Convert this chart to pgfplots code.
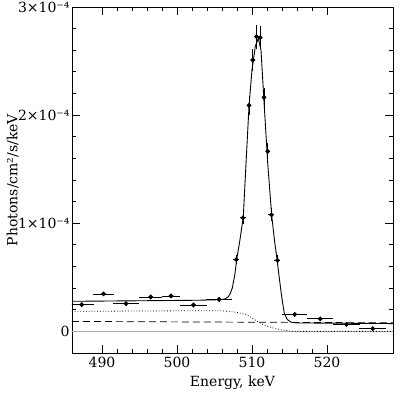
\documentclass[border=0pt]{standalone}
\usepackage{fontspec}
\setmainfont{DejaVu Serif}
\usepackage{pgfplots}
\pgfplotsset{compat=1.18}
\usepackage{pgfplotstable}

\pgfplotstableread{
x y ex ey
487.3 0.247 1.7 0.02
490.2 0.346 1.35 0.02
493.2 0.256 1.75 0.02
496.5 0.318 1.5 0.02
499.2 0.327 1.2 0.02
502.2 0.244 1.8 0.02
505.6 0.296 1.7 0.02
507.9 0.664 0.4 0.045
508.8 1.05 0.4 0.06
509.6 2.09 0.25 0.09
510.1 2.51 0.25 0.10
510.6 2.726 0.25 0.11
511.1 2.717 0.25 0.11
511.6 2.164 0.25 0.085
512.1 1.664 0.25 0.08
512.6 1.078 0.4 0.06
513.4 0.657 0.4 0.045
515.7 0.157 1.7 0.02
519.1 0.115 1.7 0.02
522.6 0.065 1.8 0.02
526.1 0.025 1.8 0.02
}\data

\pgfplotstableread{
x y
486 0.278
495 0.283
503 0.288
505.7 0.293
506.4 0.30
506.84 0.32
507.1 0.35
507.37 0.40
507.7 0.52
507.96 0.664
508.4 0.85
508.84 1.06
509.2 1.55
509.6 2.08
510.0 2.42
510.45 2.64
510.85 2.71
511.2 2.60
511.64 2.08
512.1 1.55
512.63 1.07
513.0 0.84
513.37 0.65
513.7 0.46
514.0 0.30
514.3 0.17
514.7 0.11
515.2 0.085
516.0 0.078
528.8 0.072
}\total

\pgfplotstableread{
x y
486 0.185
500 0.19
506 0.19
507 0.185
508 0.175
509.3 0.155
510.2 0.115
511.0 0.08
512.0 0.048
513.3 0.022
514.5 0.008
515.5 0.0
528.8 0.0
}\dotcomp

\begin{document}
\begin{tikzpicture}[font=\fontsize{14}{16}\selectfont]
\path[use as bounding box] (-72pt,-42pt) rectangle (328pt,353pt);
\begin{axis}[
  scale only axis,
  width=321pt, height=346pt,
  xmin=486, xmax=528.8,
  ymin=-0.2, ymax=3.0,
  xtick={490,500,510,520},
  minor x tick num=4,
  ytick={0,1,2,3},
  yticklabels={0,1×10⁻⁴,2×10⁻⁴,3×10⁻⁴},
  minor y tick num=4,
  tick align=inside,
  major tick length=8pt,
  minor tick length=4pt,
  axis line style={line width=0.9pt},
  every tick/.style={black, line width=0.9pt},
  /pgf/number format/assume math mode=true,
  /pgf/number format/set thousands separator={},
  yticklabel style={xshift=1pt},
  xticklabel style={yshift=-1pt},
  xlabel={Energy, keV},
  ylabel={Photons/cm²/s/keV},
  xlabel style={at={(axis description cs:0.5,-0.087)}, anchor=center},
  ylabel style={at={(axis description cs:-0.185,0.5)}, anchor=center},
  clip=true,
]
\addplot[gray!65, line width=1.1pt] coordinates {(486,0) (528.8,0)};
\addplot[black, line width=0.7pt, dash pattern=on 7pt off 4pt] coordinates {(486,0.092) (528.8,0.079)};
\addplot[black, line width=0.8pt, dotted] table[x=x,y=y] {\dotcomp};
\addplot[black, line width=0.9pt] table[x=x,y=y] {\total};
\addplot[black, only marks, mark=*, mark size=1.9pt, line width=0.9pt,
  error bars/.cd, x dir=both, x explicit, y dir=both, y explicit,
  error mark=none, error bar style={line width=0.9pt}]
  table[x=x, y=y, x error=ex, y error=ey] {\data};
\end{axis}
\end{tikzpicture}
\end{document}
